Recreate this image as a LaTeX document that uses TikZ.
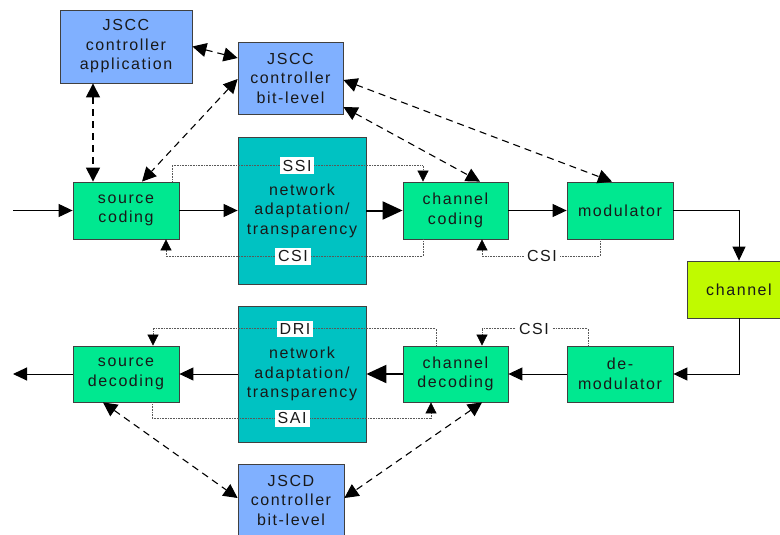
\documentclass[tikz,border=0pt]{standalone}
\usepackage{fontspec}
\setmainfont{Liberation Sans}[LetterSpace=10]
\usetikzlibrary{arrows.meta,calc}
\definecolor{ctrlblue}{RGB}{128,176,255}
\definecolor{procgreen}{RGB}{0,232,144}
\definecolor{netteal}{RGB}{0,194,194}
\definecolor{chanyellow}{RGB}{192,250,0}
\tikzset{
  blk/.style={draw=black!75, line width=0.8pt, align=center, inner sep=0pt,
    font=\fontsize{16}{19.5}\selectfont, text=black!90},
  ctrl/.style={blk, fill=ctrlblue},
  proc/.style={blk, fill=procgreen},
  net/.style={blk, fill=netteal},
  chan/.style={blk, fill=chanyellow},
  flow/.style={line width=1pt, -{Triangle[length=14pt,width=13pt]}},
  bigflow/.style={line width=2pt, -{Triangle[length=20pt,width=18pt]}},
  info/.style={draw=black!65, line width=0.7pt, dash pattern=on 1pt off 0.6pt,
    -{Triangle[length=11pt,width=11pt,fill=black,color=black]}},
  ctl/.style={line width=1.1pt, dash pattern=on 7pt off 5pt,
    {Triangle[length=14pt,width=14pt]}-{Triangle[length=14pt,width=14pt]}},
  lbl/.style={fill=white, inner xsep=3pt, inner ysep=2.5pt, text=black!90,
    font=\fontsize{16}{19}\selectfont}
}
\begin{document}
\begin{tikzpicture}[x=1pt,y=-1pt]
\useasboundingbox (0,0) rectangle (780,535);
\clip (0,0) rectangle (780,535);
% blocks
\node[ctrl, minimum width=132pt, minimum height=73pt] (app) at (126,46.5) {JSCC\\controller\\application};
\node[ctrl, minimum width=105pt, minimum height=72pt] (bit) at (290.5,78) {JSCC\\controller\\bit-level};
\node[proc, minimum width=106pt, minimum height=57pt] (sc) at (126,210.5) {source\\coding};
\node[net, minimum width=128pt, minimum height=147pt] (na1) at (302,210.5) {network\\adaptation/\\transparency};
\node[proc, minimum width=105pt, minimum height=57pt] (cc) at (455.5,210.5) {channel\\coding};
\node[proc, minimum width=106pt, minimum height=57pt] (mod) at (620,210.5) {modulator};
\node[chan, minimum width=104pt, minimum height=57pt] (ch) at (739,289.5) {channel};
\node[proc, minimum width=106pt, minimum height=56pt] (sd) at (126,374) {source\\decoding};
\node[net, minimum width=128pt, minimum height=136pt] (na2) at (302,374) {network\\adaptation/\\transparency};
\node[proc, minimum width=105pt, minimum height=56pt] (cd) at (455.5,374) {channel\\decoding};
\node[proc, minimum width=106pt, minimum height=56pt] (dem) at (620,374) {de-\\modulator};
\node[ctrl, minimum width=106pt, minimum height=72pt] (jscd) at (291,500) {JSCD\\controller\\bit-level};
% data flow
\coordinate (in) at (13,210.5);
\coordinate (out) at (13,374);
\draw[flow] (in) -- (sc.west);
\draw[flow] (sc) -- (na1);
\draw[bigflow] (na1) -- (cc);
\draw[flow] (cc) -- (mod);
\draw[flow] (mod.east) -| (ch.north);
\draw[flow] (ch.south) |- (dem.east);
\draw[flow] (dem) -- (cd);
\draw[bigflow] (cd) -- (na2);
\draw[flow] (na2) -- (sd);
\draw[flow] (sd) -- (out);
% side information
\draw[info] ($(sc.north)+(46,0)$) -- ++(0,-16) -| node[lbl,pos=0.249] (ssi) {SSI} ($(cc.north)+(-32.5,0)$);
\draw[info] ($(cc.south)+(-32.5,0)$) -- ++(0,17) -| node[lbl,pos=0.253] (csia) {CSI} ($(sc.south)+(40,0)$);
\draw[info] ($(mod.south)+(-20,0)$) -- ++(0,17) -| node[lbl,pos=0.246] (csib) {CSI} ($(cc.south)+(26.5,0)$);
\draw[info] ($(dem.north)+(-32,0)$) -- ++(0,-17) -| node[lbl,pos=0.255] (csic) {CSI} ($(cd.north)+(26.5,0)$);
\draw[info] ($(cd.north)+(-19.5,0)$) -- ++(0,-17) -| node[lbl,pos=0.249] (dri) {DRI} ($(sd.north)+(27,0)$);
\draw[info] ($(sd.south)+(26,0)$) -- ++(0,16) -| node[lbl,pos=0.251] (sai) {SAI} ($(cd.south)+(-24.5,0)$);
% control
\draw[ctl] (app.east) -- ($(bit.west)+(0,-20)$);
\draw[ctl] ($(app.south)+(-33,0)$) -- ($(sc.north)+(-33,0)$);
\draw[ctl] ($(bit.west)+(0,1)$) -- ($(sc.north)+(16,0)$);
\draw[ctl] ($(bit.east)+(0,2)$) -- ($(mod.north)+(-8,0)$);
\draw[ctl] ($(bit.east)+(0,29)$) -- ($(cc.north)+(24.5,0)$);
\draw[ctl] ($(sd.south)+(-23,0)$) -- ($(jscd.west)+(0,-2)$);
\draw[ctl] ($(cd.south)+(26.5,0)$) -- ($(jscd.east)+(0,-2)$);
\end{tikzpicture}
\end{document}
